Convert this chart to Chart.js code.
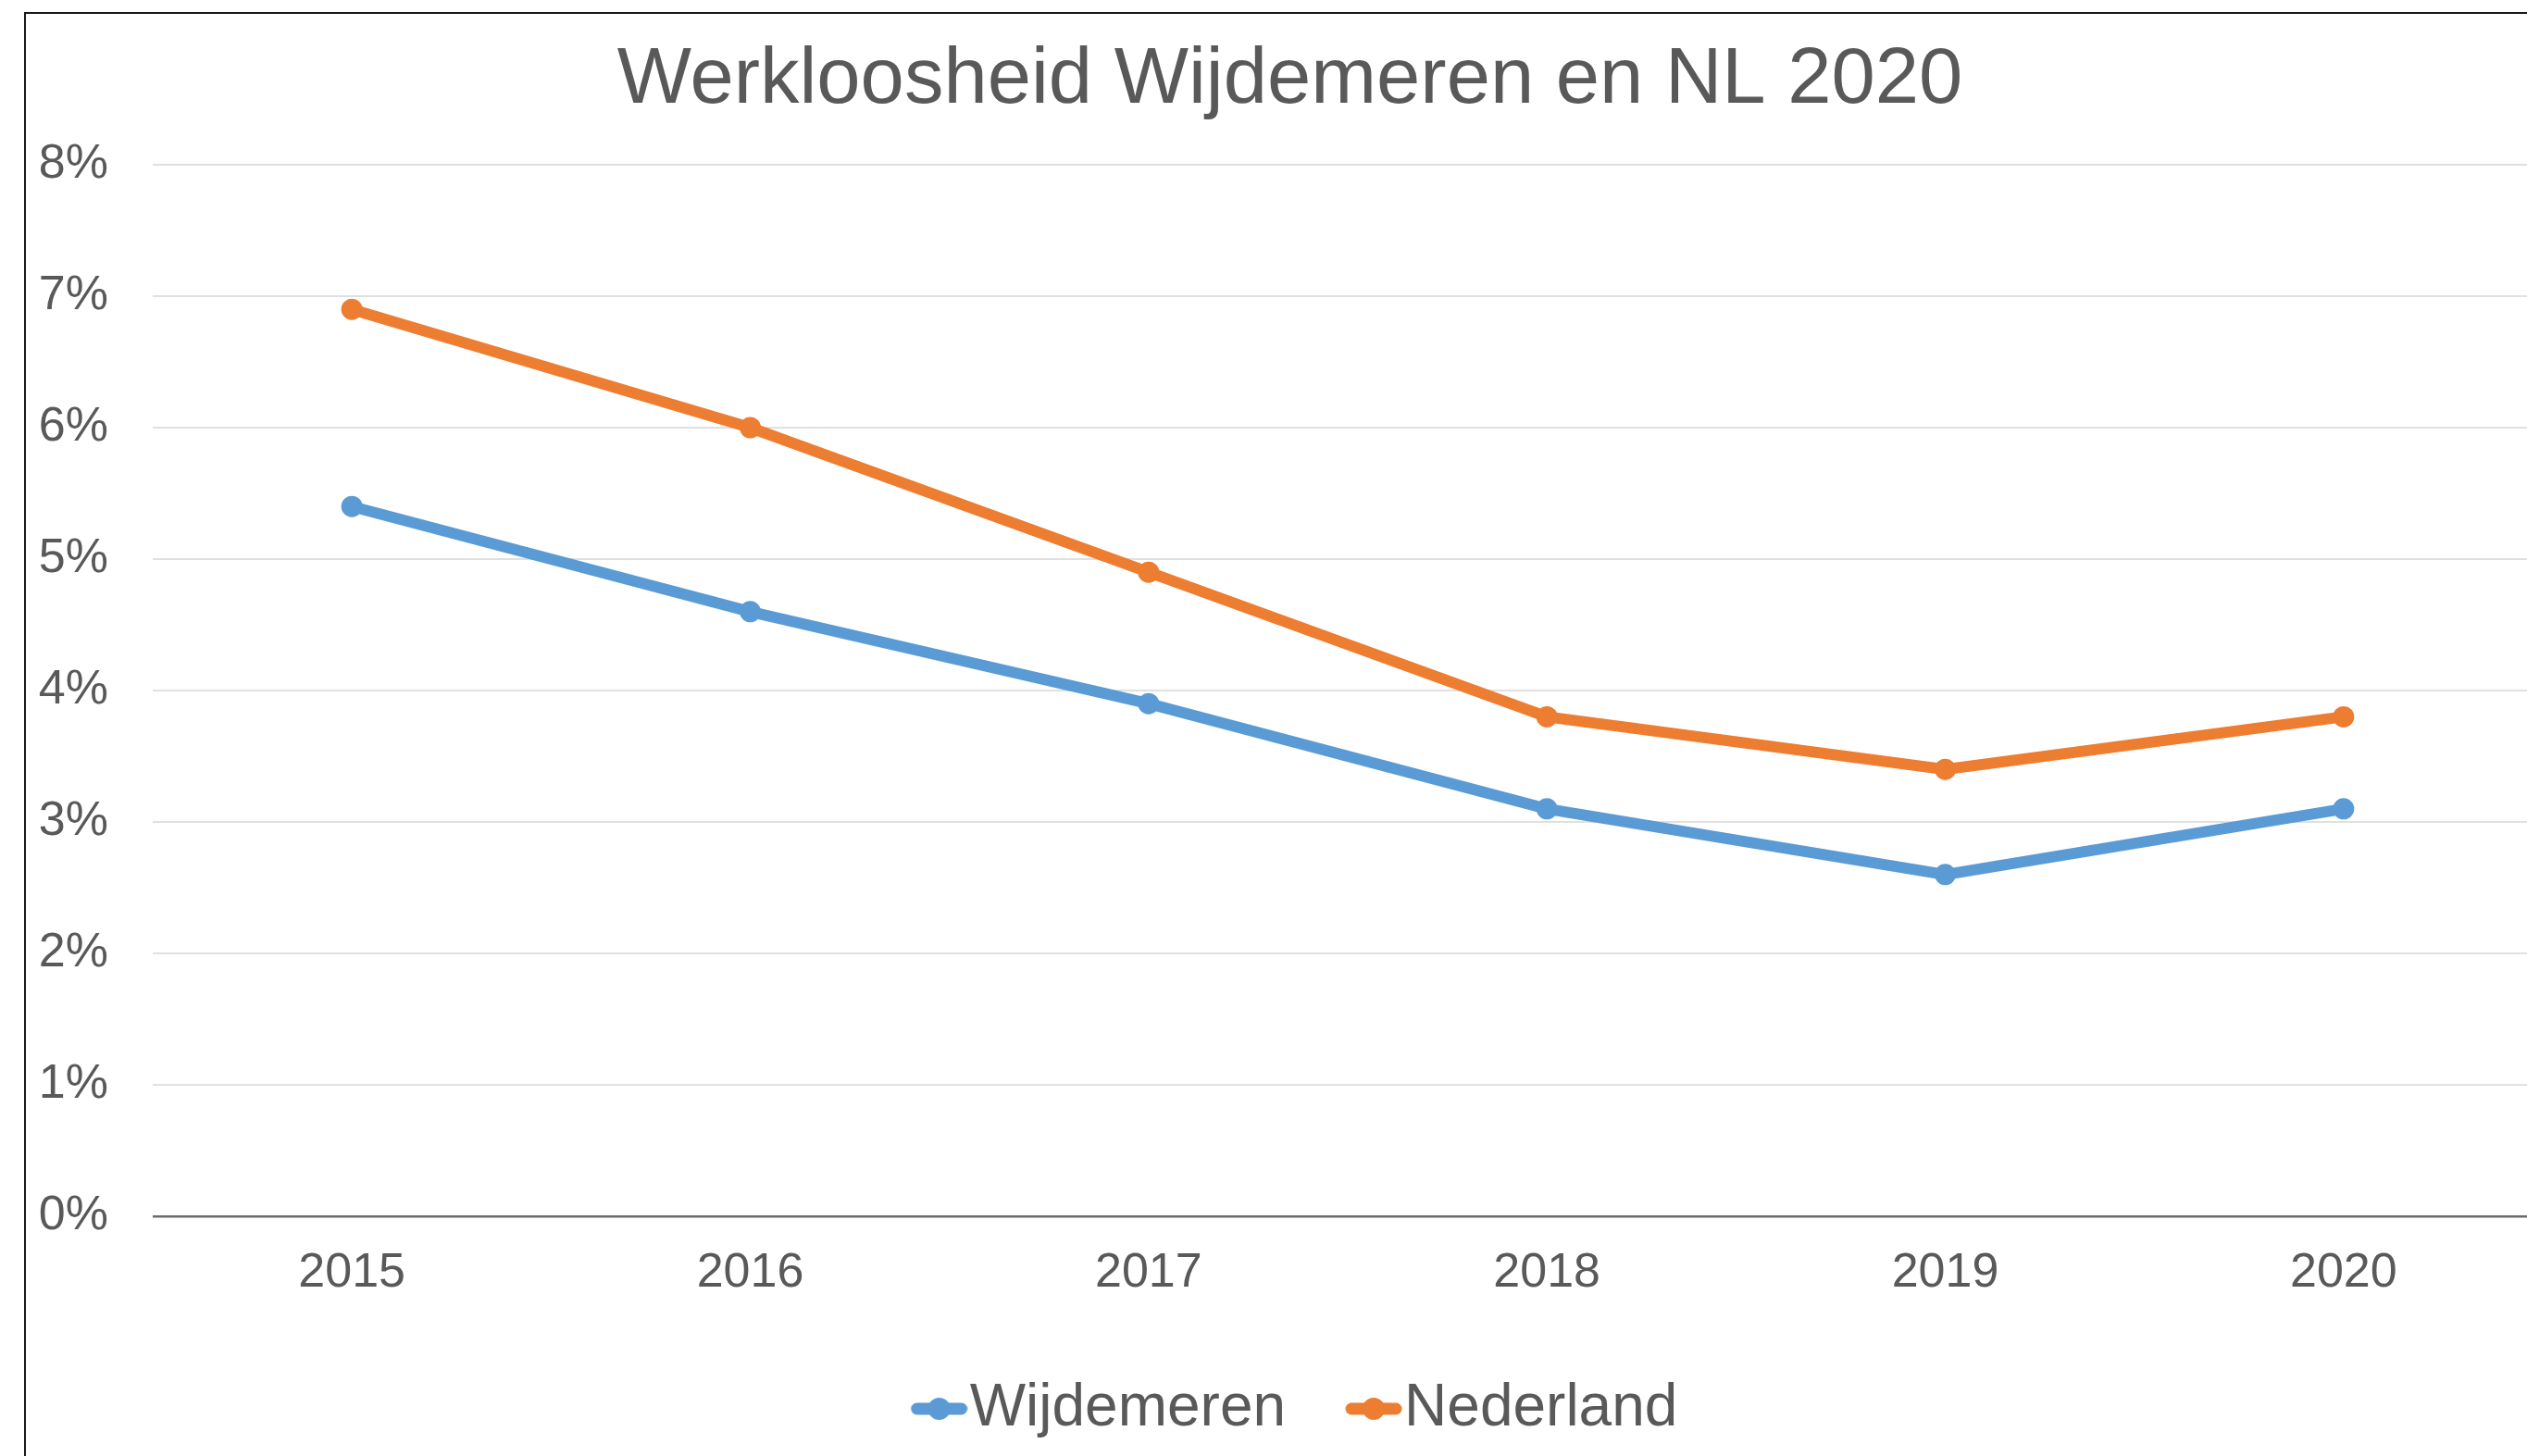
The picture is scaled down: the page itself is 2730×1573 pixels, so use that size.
<!DOCTYPE html>
<html>
<head>
<meta charset="utf-8">
<script src="https://cdn.jsdelivr.net/npm/chart.js@4.4.0/dist/chart.umd.min.js"></script>
<style>
  html, body { margin: 0; padding: 0; background: #ffffff; overflow: hidden; width: 2730px; height: 1573px; }
  #box { position: absolute; left: 26px; top: 13px; width: 2752px; height: 1600px; border: 2px solid #1a1a1a; background: #fff; }
  #box canvas { display: block; }
</style>
</head>
<body>
<div id="box"><canvas id="c"></canvas></div>
<script>
const categories = ['2015', '2016', '2017', '2018', '2019', '2020'];
const wijdemeren = [5.4, 4.6, 3.9, 3.1, 2.6, 3.1];
const nederland = [6.9, 6.0, 4.9, 3.8, 3.4, 3.8];
const seriesNames = ['Wijdemeren', 'Nederland'];
const yTickValues = [0, 1, 2, 3, 4, 5, 6, 7, 8];
const titleText = 'Werkloosheid Wijdemeren en NL 2020';

const BLUE = '#5b9bd5';
const ORANGE = '#ed7d31';
const TEXT = '#595959';
const FONT = "'Liberation Sans', Arial, sans-serif";

// legend symbol: line with a dot, drawn at the right part of a wider image
function legendSymbol(color) {
  const cv = document.createElement('canvas');
  cv.width = 101; cv.height = 28;
  const g = cv.getContext('2d');
  g.strokeStyle = color;
  g.lineWidth = 13;
  g.lineCap = 'round';
  g.beginPath();
  g.moveTo(46, 14); g.lineTo(94, 14);
  g.stroke();
  g.fillStyle = color;
  g.beginPath();
  g.arc(70, 14, 12, 0, Math.PI * 2);
  g.fill();
  return cv;
}
const symbols = [legendSymbol(BLUE), legendSymbol(ORANGE)];

new Chart(document.getElementById('c'), {
  type: 'line',
  data: {
    labels: categories,
    datasets: [
      { label: seriesNames[0], data: wijdemeren, borderColor: BLUE, backgroundColor: BLUE,
        borderWidth: 12, pointRadius: 11.5, pointBorderWidth: 0, pointBackgroundColor: BLUE, tension: 0 },
      { label: seriesNames[1], data: nederland, borderColor: ORANGE, backgroundColor: ORANGE,
        borderWidth: 12, pointRadius: 11.5, pointBorderWidth: 0, pointBackgroundColor: ORANGE, tension: 0 }
    ]
  },
  options: {
    responsive: true,
    maintainAspectRatio: false,
    animation: false,
    devicePixelRatio: 1,
    layout: { padding: { left: 12, right: 33, top: 0, bottom: 51 } },
    plugins: {
      tooltip: { enabled: false },
      title: {
        display: true,
        text: titleText,
        color: TEXT,
        font: { family: FONT, size: 85, weight: 'normal' },
        padding: { top: 22, bottom: 39 }
      },
      legend: {
        display: true,
        position: 'bottom',
        labels: {
          color: TEXT,
          font: { family: FONT, size: 64 },
          usePointStyle: true,
          pointStyleWidth: 41,
          padding: 55,
          generateLabels: function(chart) {
            const items = Chart.defaults.plugins.legend.labels.generateLabels(chart);
            items.forEach((it, i) => { it.pointStyle = symbols[i]; });
            return items;
          }
        }
      }
    },
    scales: {
      x: {
        offset: true,
        grid: { display: false, drawTicks: false },
        border: { display: false },
        ticks: { color: TEXT, font: { family: FONT, size: 52 }, padding: 30, maxRotation: 0 },
        afterFit: function(s) { s.height = 121; }
      },
      y: {
        min: 0,
        max: 8,
        afterBuildTicks: function(s) { s.ticks = yTickValues.map(v => ({ value: v })); },
        grid: {
          drawTicks: false,
          color: ctx => (ctx.tick && ctx.tick.value === 0) ? '#6b6b6b' : '#e0e0e0',
          lineWidth: ctx => (ctx.tick && ctx.tick.value === 0) ? 2.5 : 2
        },
        border: { display: false },
        ticks: {
          color: TEXT,
          font: { family: FONT, size: 52 },
          padding: 48,
          callback: v => v + '%'
        },
        afterFit: function(s) { s.width = 125; }
      }
    }
  }
});
</script>
</body>
</html>
